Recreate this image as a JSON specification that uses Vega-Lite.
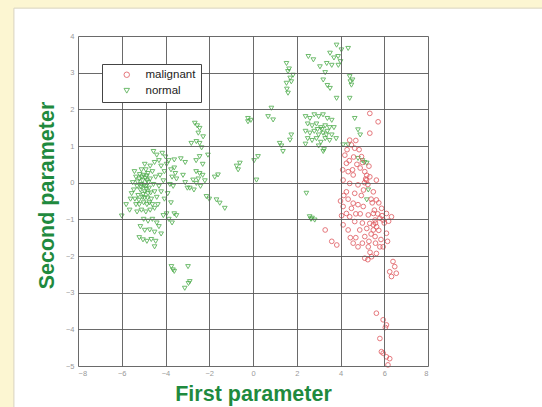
{
  "$schema": "https://vega.github.io/schema/vega-lite/v6.json",
  "autosize": "none",
  "width": 350,
  "height": 330,
  "padding": {"left": 78, "top": 36, "right": 114, "bottom": 41},
  "background": "#fcf6d2",
  "config": {
    "view": {"stroke": null},
    "axis": {
      "labelFont": "Liberation Sans",
      "labelFontSize": 7.5,
      "labelColor": "#9a9a9a",
      "labelOverlap": false,
      "ticks": false,
      "domain": false,
      "grid": true,
      "gridColor": "#5a5a5a",
      "gridOpacity": 0.9,
      "gridWidth": 1,
      "titleFont": "Liberation Sans",
      "titleFontSize": 21.5,
      "titleFontWeight": "bold",
      "titleColor": "#1f8a3e"
    },
    "legend": {
      "orient": "none",
      "legendX": 24,
      "legendY": 28,
      "padding": 5,
      "rowPadding": 3,
      "strokeColor": "#444444",
      "fillColor": "#ffffff",
      "labelFont": "Liberation Sans",
      "labelFontSize": 11.5,
      "labelColor": "#222222",
      "symbolOffset": 14,
      "labelOffset": 13,
      "symbolSize": 30,
      "symbolStrokeWidth": 1,
      "title": null
    }
  },
  "layer": [
    {
      "data": {"values": [{"panel": "sheet"}]},
      "mark": {"type": "rect", "fill": "#ffffff", "stroke": "#d8d4c0", "strokeWidth": 1},
      "encoding": {
        "x": {"datum": -10.93, "type": "quantitative", "scale": {"domain": [-8, 8], "nice": false, "zero": false}},
        "x2": {"datum": 14},
        "y": {"datum": -8, "type": "quantitative", "scale": {"domain": [-5, 4], "nice": false, "zero": false}},
        "y2": {"datum": 4.76}
      }
    },
    {
      "data": {
        "values": [
          {"p1": -5.2, "p2": 0.1, "tissue": "normal"},
          {"p1": -5.1, "p2": -0.05, "tissue": "normal"},
          {"p1": -5.0, "p2": 0.2, "tissue": "normal"},
          {"p1": -4.9, "p2": -0.1, "tissue": "normal"},
          {"p1": -4.85, "p2": 0.05, "tissue": "normal"},
          {"p1": -4.8, "p2": -0.3, "tissue": "normal"},
          {"p1": -4.95, "p2": -0.25, "tissue": "normal"},
          {"p1": -5.05, "p2": -0.4, "tissue": "normal"},
          {"p1": -4.7, "p2": 0.1, "tissue": "normal"},
          {"p1": -4.75, "p2": -0.15, "tissue": "normal"},
          {"p1": -4.65, "p2": -0.45, "tissue": "normal"},
          {"p1": -5.15, "p2": -0.2, "tissue": "normal"},
          {"p1": -5.3, "p2": -0.1, "tissue": "normal"},
          {"p1": -5.25, "p2": -0.35, "tissue": "normal"},
          {"p1": -5.35, "p2": 0.15, "tissue": "normal"},
          {"p1": -4.9, "p2": 0.35, "tissue": "normal"},
          {"p1": -4.8, "p2": 0.25, "tissue": "normal"},
          {"p1": -4.6, "p2": 0.3, "tissue": "normal"},
          {"p1": -4.55, "p2": -0.05, "tissue": "normal"},
          {"p1": -4.5, "p2": -0.25, "tissue": "normal"},
          {"p1": -5.0, "p2": -0.55, "tissue": "normal"},
          {"p1": -4.85, "p2": -0.6, "tissue": "normal"},
          {"p1": -5.2, "p2": -0.6, "tissue": "normal"},
          {"p1": -5.4, "p2": -0.45, "tissue": "normal"},
          {"p1": -5.45, "p2": -0.2, "tissue": "normal"},
          {"p1": -5.1, "p2": 0.35, "tissue": "normal"},
          {"p1": -4.95, "p2": 0.5, "tissue": "normal"},
          {"p1": -4.7, "p2": 0.45, "tissue": "normal"},
          {"p1": -4.6, "p2": -0.6, "tissue": "normal"},
          {"p1": -4.45, "p2": 0.15, "tissue": "normal"},
          {"p1": -4.4, "p2": -0.4, "tissue": "normal"},
          {"p1": -5.05, "p2": 0.05, "tissue": "normal"},
          {"p1": -4.98, "p2": -0.08, "tissue": "normal"},
          {"p1": -4.88, "p2": -0.18, "tissue": "normal"},
          {"p1": -4.78, "p2": 0.0, "tissue": "normal"},
          {"p1": -5.12, "p2": -0.12, "tissue": "normal"},
          {"p1": -4.92, "p2": 0.12, "tissue": "normal"},
          {"p1": -4.82, "p2": -0.42, "tissue": "normal"},
          {"p1": -5.02, "p2": -0.32, "tissue": "normal"},
          {"p1": -5.18, "p2": 0.22, "tissue": "normal"},
          {"p1": -4.68, "p2": -0.28, "tissue": "normal"},
          {"p1": -5.28, "p2": 0.02, "tissue": "normal"},
          {"p1": -5.5, "p2": 0.0, "tissue": "normal"},
          {"p1": -5.55, "p2": -0.3, "tissue": "normal"},
          {"p1": -5.35, "p2": -0.6, "tissue": "normal"},
          {"p1": -5.1, "p2": -0.75, "tissue": "normal"},
          {"p1": -4.9, "p2": -0.8, "tissue": "normal"},
          {"p1": -4.7, "p2": -0.75, "tissue": "normal"},
          {"p1": -4.5, "p2": -0.7, "tissue": "normal"},
          {"p1": -5.3, "p2": -0.8, "tissue": "normal"},
          {"p1": -5.08, "p2": 0.15, "tissue": "normal"},
          {"p1": -4.96, "p2": -0.42, "tissue": "normal"},
          {"p1": -5.22, "p2": -0.48, "tissue": "normal"},
          {"p1": -4.74, "p2": -0.55, "tissue": "normal"},
          {"p1": -5.42, "p2": 0.3, "tissue": "normal"},
          {"p1": -4.86, "p2": 0.18, "tissue": "normal"},
          {"p1": -4.55, "p2": 0.85, "tissue": "normal"},
          {"p1": -4.4, "p2": 0.75, "tissue": "normal"},
          {"p1": -4.3, "p2": 0.6, "tissue": "normal"},
          {"p1": -4.5, "p2": 0.55, "tissue": "normal"},
          {"p1": -4.2, "p2": 0.45, "tissue": "normal"},
          {"p1": -4.15, "p2": 0.8, "tissue": "normal"},
          {"p1": -4.0, "p2": 0.7, "tissue": "normal"},
          {"p1": -4.05, "p2": 0.3, "tissue": "normal"},
          {"p1": -4.25, "p2": 0.2, "tissue": "normal"},
          {"p1": -4.1, "p2": 0.05, "tissue": "normal"},
          {"p1": -4.3, "p2": -0.1, "tissue": "normal"},
          {"p1": -4.2, "p2": -0.25, "tissue": "normal"},
          {"p1": -4.05, "p2": -0.45, "tissue": "normal"},
          {"p1": -4.35, "p2": -0.6, "tissue": "normal"},
          {"p1": -3.95, "p2": 0.5, "tissue": "normal"},
          {"p1": -3.85, "p2": 0.6, "tissue": "normal"},
          {"p1": -3.75, "p2": 0.35, "tissue": "normal"},
          {"p1": -3.6, "p2": 0.62, "tissue": "normal"},
          {"p1": -3.6, "p2": 0.4, "tissue": "normal"},
          {"p1": -3.7, "p2": 0.15, "tissue": "normal"},
          {"p1": -3.55, "p2": 0.25, "tissue": "normal"},
          {"p1": -3.8, "p2": -0.05, "tissue": "normal"},
          {"p1": -3.65, "p2": -0.1, "tissue": "normal"},
          {"p1": -3.5, "p2": 0.1, "tissue": "normal"},
          {"p1": -3.9, "p2": -0.3, "tissue": "normal"},
          {"p1": -3.75, "p2": -0.55, "tissue": "normal"},
          {"p1": -3.6, "p2": -0.85, "tissue": "normal"},
          {"p1": -3.5, "p2": -0.9, "tissue": "normal"},
          {"p1": -3.95, "p2": -0.85, "tissue": "normal"},
          {"p1": -4.1, "p2": -0.9, "tissue": "normal"},
          {"p1": -3.85, "p2": -1.0, "tissue": "normal"},
          {"p1": -3.7, "p2": -1.1, "tissue": "normal"},
          {"p1": -5.0, "p2": -1.0, "tissue": "normal"},
          {"p1": -4.8, "p2": -1.05, "tissue": "normal"},
          {"p1": -4.6, "p2": -1.0, "tissue": "normal"},
          {"p1": -4.4, "p2": -1.1, "tissue": "normal"},
          {"p1": -5.15, "p2": -1.2, "tissue": "normal"},
          {"p1": -4.95, "p2": -1.3, "tissue": "normal"},
          {"p1": -4.72, "p2": -1.29, "tissue": "normal"},
          {"p1": -4.5, "p2": -1.35, "tissue": "normal"},
          {"p1": -4.3, "p2": -1.2, "tissue": "normal"},
          {"p1": -5.03, "p2": -1.56, "tissue": "normal"},
          {"p1": -4.85, "p2": -1.6, "tissue": "normal"},
          {"p1": -5.2, "p2": -1.5, "tissue": "normal"},
          {"p1": -4.65, "p2": -1.55, "tissue": "normal"},
          {"p1": -4.5, "p2": -1.75, "tissue": "normal"},
          {"p1": -4.45, "p2": -1.6, "tissue": "normal"},
          {"p1": -4.2, "p2": -1.4, "tissue": "normal"},
          {"p1": -6.0, "p2": -0.91, "tissue": "normal"},
          {"p1": -5.64, "p2": -0.75, "tissue": "normal"},
          {"p1": -5.8, "p2": -0.6, "tissue": "normal"},
          {"p1": -5.6, "p2": -0.45, "tissue": "normal"},
          {"p1": -3.73, "p2": -2.29, "tissue": "normal"},
          {"p1": -3.66, "p2": -2.38, "tissue": "normal"},
          {"p1": -3.6, "p2": -2.42, "tissue": "normal"},
          {"p1": -2.97, "p2": -2.29, "tissue": "normal"},
          {"p1": -2.89, "p2": -2.7, "tissue": "normal"},
          {"p1": -3.12, "p2": -2.88, "tissue": "normal"},
          {"p1": -2.95, "p2": -2.75, "tissue": "normal"},
          {"p1": -2.66, "p2": 1.62, "tissue": "normal"},
          {"p1": -2.55, "p2": 1.55, "tissue": "normal"},
          {"p1": -2.44, "p2": 1.48, "tissue": "normal"},
          {"p1": -2.5, "p2": 1.35, "tissue": "normal"},
          {"p1": -2.59, "p2": 1.12, "tissue": "normal"},
          {"p1": -2.44, "p2": 1.07, "tissue": "normal"},
          {"p1": -2.82, "p2": 1.07, "tissue": "normal"},
          {"p1": -2.28, "p2": 1.25, "tissue": "normal"},
          {"p1": -2.35, "p2": 0.95, "tissue": "normal"},
          {"p1": -2.06, "p2": 0.75, "tissue": "normal"},
          {"p1": -2.44, "p2": 0.71, "tissue": "normal"},
          {"p1": -2.6, "p2": 0.6, "tissue": "normal"},
          {"p1": -2.3, "p2": 0.5, "tissue": "normal"},
          {"p1": -2.44, "p2": 0.25, "tissue": "normal"},
          {"p1": -2.3, "p2": 0.2, "tissue": "normal"},
          {"p1": -2.6, "p2": 0.3, "tissue": "normal"},
          {"p1": -2.74, "p2": 0.07, "tissue": "normal"},
          {"p1": -2.5, "p2": 0.1, "tissue": "normal"},
          {"p1": -2.2, "p2": 0.05, "tissue": "normal"},
          {"p1": -2.89, "p2": -0.15, "tissue": "normal"},
          {"p1": -2.59, "p2": -0.02, "tissue": "normal"},
          {"p1": -2.7, "p2": -0.2, "tissue": "normal"},
          {"p1": -2.4, "p2": -0.1, "tissue": "normal"},
          {"p1": -2.13, "p2": -0.38, "tissue": "normal"},
          {"p1": -3.1, "p2": 0.0, "tissue": "normal"},
          {"p1": -3.2, "p2": 0.2, "tissue": "normal"},
          {"p1": -3.0, "p2": -0.15, "tissue": "normal"},
          {"p1": -3.3, "p2": 0.65, "tissue": "normal"},
          {"p1": -3.1, "p2": 0.55, "tissue": "normal"},
          {"p1": -1.6, "p2": 0.21, "tissue": "normal"},
          {"p1": -1.75, "p2": 0.15, "tissue": "normal"},
          {"p1": -1.67, "p2": -0.47, "tissue": "normal"},
          {"p1": -1.52, "p2": -0.56, "tissue": "normal"},
          {"p1": -1.29, "p2": -0.7, "tissue": "normal"},
          {"p1": -2.0, "p2": -0.45, "tissue": "normal"},
          {"p1": -0.68, "p2": 0.35, "tissue": "normal"},
          {"p1": -0.6, "p2": 0.53, "tissue": "normal"},
          {"p1": -0.75, "p2": 0.45, "tissue": "normal"},
          {"p1": -0.23, "p2": 1.75, "tissue": "normal"},
          {"p1": -0.23, "p2": 1.66, "tissue": "normal"},
          {"p1": -0.1, "p2": 1.7, "tissue": "normal"},
          {"p1": 0.23, "p2": 0.71, "tissue": "normal"},
          {"p1": 0.16, "p2": 0.07, "tissue": "normal"},
          {"p1": 0.05, "p2": 0.6, "tissue": "normal"},
          {"p1": 0.69, "p2": 1.8, "tissue": "normal"},
          {"p1": 0.84, "p2": 2.03, "tissue": "normal"},
          {"p1": 0.92, "p2": 1.71, "tissue": "normal"},
          {"p1": 1.22, "p2": 1.07, "tissue": "normal"},
          {"p1": 1.37, "p2": 0.85, "tissue": "normal"},
          {"p1": 1.3, "p2": 1.0, "tissue": "normal"},
          {"p1": 1.53, "p2": 3.25, "tissue": "normal"},
          {"p1": 1.6, "p2": 3.03, "tissue": "normal"},
          {"p1": 1.53, "p2": 2.71, "tissue": "normal"},
          {"p1": 1.6, "p2": 2.44, "tissue": "normal"},
          {"p1": 1.83, "p2": 2.93, "tissue": "normal"},
          {"p1": 1.7, "p2": 2.85, "tissue": "normal"},
          {"p1": 1.65, "p2": 3.1, "tissue": "normal"},
          {"p1": 1.55, "p2": 2.55, "tissue": "normal"},
          {"p1": 1.75, "p2": 2.75, "tissue": "normal"},
          {"p1": 2.44, "p2": -0.29, "tissue": "normal"},
          {"p1": 2.59, "p2": -0.93, "tissue": "normal"},
          {"p1": 2.7, "p2": -0.97, "tissue": "normal"},
          {"p1": 2.82, "p2": -1.02, "tissue": "normal"},
          {"p1": 2.65, "p2": -1.0, "tissue": "normal"},
          {"p1": 2.53, "p2": 3.44, "tissue": "normal"},
          {"p1": 2.76, "p2": 3.35, "tissue": "normal"},
          {"p1": 3.06, "p2": 3.16, "tissue": "normal"},
          {"p1": 3.37, "p2": 3.25, "tissue": "normal"},
          {"p1": 3.52, "p2": 3.53, "tissue": "normal"},
          {"p1": 3.82, "p2": 3.75, "tissue": "normal"},
          {"p1": 3.89, "p2": 3.44, "tissue": "normal"},
          {"p1": 4.04, "p2": 3.62, "tissue": "normal"},
          {"p1": 4.35, "p2": 3.66, "tissue": "normal"},
          {"p1": 3.7, "p2": 3.4, "tissue": "normal"},
          {"p1": 3.6, "p2": 3.2, "tissue": "normal"},
          {"p1": 3.3, "p2": 3.0, "tissue": "normal"},
          {"p1": 3.9, "p2": 3.2, "tissue": "normal"},
          {"p1": 4.0, "p2": 3.3, "tissue": "normal"},
          {"p1": 3.21, "p2": 2.8, "tissue": "normal"},
          {"p1": 3.52, "p2": 2.57, "tissue": "normal"},
          {"p1": 3.82, "p2": 2.3, "tissue": "normal"},
          {"p1": 3.4, "p2": 2.65, "tissue": "normal"},
          {"p1": 4.42, "p2": 2.89, "tissue": "normal"},
          {"p1": 4.5, "p2": 2.66, "tissue": "normal"},
          {"p1": 4.42, "p2": 2.3, "tissue": "normal"},
          {"p1": 4.45, "p2": 2.75, "tissue": "normal"},
          {"p1": 4.55, "p2": 2.8, "tissue": "normal"},
          {"p1": 2.4, "p2": 1.8, "tissue": "normal"},
          {"p1": 2.6, "p2": 1.75, "tissue": "normal"},
          {"p1": 2.8, "p2": 1.85, "tissue": "normal"},
          {"p1": 3.0, "p2": 1.8, "tissue": "normal"},
          {"p1": 3.2, "p2": 1.85, "tissue": "normal"},
          {"p1": 3.4, "p2": 1.75, "tissue": "normal"},
          {"p1": 3.6, "p2": 1.7, "tissue": "normal"},
          {"p1": 2.5, "p2": 1.6, "tissue": "normal"},
          {"p1": 2.7, "p2": 1.55, "tissue": "normal"},
          {"p1": 2.9, "p2": 1.6, "tissue": "normal"},
          {"p1": 3.1, "p2": 1.5, "tissue": "normal"},
          {"p1": 3.3, "p2": 1.55, "tissue": "normal"},
          {"p1": 3.5, "p2": 1.5, "tissue": "normal"},
          {"p1": 3.7, "p2": 1.5, "tissue": "normal"},
          {"p1": 2.4, "p2": 1.4, "tissue": "normal"},
          {"p1": 2.6, "p2": 1.35, "tissue": "normal"},
          {"p1": 2.8, "p2": 1.4, "tissue": "normal"},
          {"p1": 3.0, "p2": 1.3, "tissue": "normal"},
          {"p1": 3.2, "p2": 1.35, "tissue": "normal"},
          {"p1": 3.4, "p2": 1.4, "tissue": "normal"},
          {"p1": 3.6, "p2": 1.3, "tissue": "normal"},
          {"p1": 2.5, "p2": 1.2, "tissue": "normal"},
          {"p1": 2.7, "p2": 1.15, "tissue": "normal"},
          {"p1": 2.9, "p2": 1.2, "tissue": "normal"},
          {"p1": 3.1, "p2": 1.1, "tissue": "normal"},
          {"p1": 3.3, "p2": 1.2, "tissue": "normal"},
          {"p1": 3.5, "p2": 1.15, "tissue": "normal"},
          {"p1": 3.8, "p2": 1.2, "tissue": "normal"},
          {"p1": 2.4, "p2": 1.05, "tissue": "normal"},
          {"p1": 3.0, "p2": 1.0, "tissue": "normal"},
          {"p1": 3.25, "p2": 0.9, "tissue": "normal"},
          {"p1": 3.15, "p2": 1.45, "tissue": "normal"},
          {"p1": 2.95, "p2": 1.45, "tissue": "normal"},
          {"p1": 3.35, "p2": 1.3, "tissue": "normal"},
          {"p1": 3.21, "p2": 0.85, "tissue": "normal"},
          {"p1": 1.69, "p2": 1.16, "tissue": "normal"},
          {"p1": 1.75, "p2": 1.3, "tissue": "normal"},
          {"p1": 4.65, "p2": 1.75, "tissue": "normal"},
          {"p1": 4.8, "p2": 1.44, "tissue": "normal"},
          {"p1": 4.9, "p2": 1.3, "tissue": "normal"},
          {"p1": 4.12, "p2": 1.03, "tissue": "normal"},
          {"p1": 4.35, "p2": 1.03, "tissue": "normal"},
          {"p1": 4.8, "p2": 0.66, "tissue": "normal"},
          {"p1": 5.0, "p2": 0.6, "tissue": "normal"},
          {"p1": 5.1, "p2": 0.55, "tissue": "normal"},
          {"p1": 5.2, "p2": 0.53, "tissue": "normal"},
          {"p1": 5.2, "p2": -0.47, "tissue": "normal"},
          {"p1": 5.27, "p2": -0.2, "tissue": "normal"},
          {"p1": 5.34, "p2": 1.89, "tissue": "malignant"},
          {"p1": 5.72, "p2": 1.66, "tissue": "malignant"},
          {"p1": 5.34, "p2": 1.35, "tissue": "malignant"},
          {"p1": 4.42, "p2": 1.16, "tissue": "malignant"},
          {"p1": 4.5, "p2": 1.03, "tissue": "malignant"},
          {"p1": 4.65, "p2": 0.94, "tissue": "malignant"},
          {"p1": 4.2, "p2": 0.75, "tissue": "malignant"},
          {"p1": 4.96, "p2": 0.71, "tissue": "malignant"},
          {"p1": 4.27, "p2": 0.53, "tissue": "malignant"},
          {"p1": 4.12, "p2": 0.07, "tissue": "malignant"},
          {"p1": 4.58, "p2": 0.21, "tissue": "malignant"},
          {"p1": 5.11, "p2": 0.3, "tissue": "malignant"},
          {"p1": 5.19, "p2": 0.07, "tissue": "malignant"},
          {"p1": 5.34, "p2": 0.16, "tissue": "malignant"},
          {"p1": 5.64, "p2": 0.07, "tissue": "malignant"},
          {"p1": 4.42, "p2": -0.02, "tissue": "malignant"},
          {"p1": 4.27, "p2": -0.25, "tissue": "malignant"},
          {"p1": 4.8, "p2": -0.06, "tissue": "malignant"},
          {"p1": 4.65, "p2": -0.29, "tissue": "malignant"},
          {"p1": 5.5, "p2": -0.25, "tissue": "malignant"},
          {"p1": 5.64, "p2": -0.47, "tissue": "malignant"},
          {"p1": 4.58, "p2": -0.56, "tissue": "malignant"},
          {"p1": 4.8, "p2": -0.6, "tissue": "malignant"},
          {"p1": 4.12, "p2": -0.65, "tissue": "malignant"},
          {"p1": 4.27, "p2": -0.84, "tissue": "malignant"},
          {"p1": 5.04, "p2": -0.65, "tissue": "malignant"},
          {"p1": 5.27, "p2": -0.88, "tissue": "malignant"},
          {"p1": 5.5, "p2": -0.84, "tissue": "malignant"},
          {"p1": 5.88, "p2": -0.7, "tissue": "malignant"},
          {"p1": 6.1, "p2": -0.84, "tissue": "malignant"},
          {"p1": 6.33, "p2": -0.93, "tissue": "malignant"},
          {"p1": 5.58, "p2": -1.02, "tissue": "malignant"},
          {"p1": 5.8, "p2": -0.97, "tissue": "malignant"},
          {"p1": 5.95, "p2": -1.02, "tissue": "malignant"},
          {"p1": 5.34, "p2": -1.11, "tissue": "malignant"},
          {"p1": 4.42, "p2": -0.93, "tissue": "malignant"},
          {"p1": 4.12, "p2": -1.15, "tissue": "malignant"},
          {"p1": 4.65, "p2": -1.06, "tissue": "malignant"},
          {"p1": 4.35, "p2": -1.29, "tissue": "malignant"},
          {"p1": 4.88, "p2": -1.29, "tissue": "malignant"},
          {"p1": 5.5, "p2": -1.29, "tissue": "malignant"},
          {"p1": 6.1, "p2": -1.38, "tissue": "malignant"},
          {"p1": 5.11, "p2": -1.47, "tissue": "malignant"},
          {"p1": 5.58, "p2": -1.47, "tissue": "malignant"},
          {"p1": 4.58, "p2": -1.65, "tissue": "malignant"},
          {"p1": 4.8, "p2": -1.75, "tissue": "malignant"},
          {"p1": 5.27, "p2": -1.75, "tissue": "malignant"},
          {"p1": 5.8, "p2": -1.75, "tissue": "malignant"},
          {"p1": 5.95, "p2": -1.75, "tissue": "malignant"},
          {"p1": 5.64, "p2": -1.93, "tissue": "malignant"},
          {"p1": 5.11, "p2": -2.06, "tissue": "malignant"},
          {"p1": 5.42, "p2": -2.02, "tissue": "malignant"},
          {"p1": 3.3, "p2": -1.29, "tissue": "malignant"},
          {"p1": 3.6, "p2": -1.6, "tissue": "malignant"},
          {"p1": 3.83, "p2": -1.7, "tissue": "malignant"},
          {"p1": 6.4, "p2": -2.15, "tissue": "malignant"},
          {"p1": 6.48, "p2": -2.29, "tissue": "malignant"},
          {"p1": 6.25, "p2": -2.43, "tissue": "malignant"},
          {"p1": 6.55, "p2": -2.47, "tissue": "malignant"},
          {"p1": 6.33, "p2": -2.56, "tissue": "malignant"},
          {"p1": 5.64, "p2": -3.56, "tissue": "malignant"},
          {"p1": 5.95, "p2": -3.74, "tissue": "malignant"},
          {"p1": 6.1, "p2": -3.88, "tissue": "malignant"},
          {"p1": 6.05, "p2": -3.95, "tissue": "malignant"},
          {"p1": 5.8, "p2": -4.25, "tissue": "malignant"},
          {"p1": 5.87, "p2": -4.61, "tissue": "malignant"},
          {"p1": 5.95, "p2": -4.65, "tissue": "malignant"},
          {"p1": 6.1, "p2": -4.75, "tissue": "malignant"},
          {"p1": 6.25, "p2": -4.8, "tissue": "malignant"},
          {"p1": 6.17, "p2": -4.97, "tissue": "malignant"},
          {"p1": 5.15, "p2": 0.1, "tissue": "malignant"},
          {"p1": 5.2, "p2": 0.2, "tissue": "malignant"},
          {"p1": 5.1, "p2": 0.0, "tissue": "malignant"},
          {"p1": 5.25, "p2": -0.05, "tissue": "malignant"},
          {"p1": 4.9, "p2": 0.4, "tissue": "malignant"},
          {"p1": 4.75, "p2": 0.5, "tissue": "malignant"},
          {"p1": 4.55, "p2": 0.35, "tissue": "malignant"},
          {"p1": 4.35, "p2": 0.3, "tissue": "malignant"},
          {"p1": 4.3, "p2": 0.9, "tissue": "malignant"},
          {"p1": 4.85, "p2": 0.9, "tissue": "malignant"},
          {"p1": 5.0, "p2": 0.55, "tissue": "malignant"},
          {"p1": 5.3, "p2": 0.45, "tissue": "malignant"},
          {"p1": 5.45, "p2": -0.55, "tissue": "malignant"},
          {"p1": 5.55, "p2": -0.75, "tissue": "malignant"},
          {"p1": 5.7, "p2": -0.85, "tissue": "malignant"},
          {"p1": 5.6, "p2": -1.1, "tissue": "malignant"},
          {"p1": 5.5, "p2": -1.15, "tissue": "malignant"},
          {"p1": 5.65, "p2": -1.2, "tissue": "malignant"},
          {"p1": 5.9, "p2": -0.9, "tissue": "malignant"},
          {"p1": 6.0, "p2": -1.1, "tissue": "malignant"},
          {"p1": 5.75, "p2": -1.3, "tissue": "malignant"},
          {"p1": 5.4, "p2": -1.4, "tissue": "malignant"},
          {"p1": 5.2, "p2": -1.25, "tissue": "malignant"},
          {"p1": 5.0, "p2": -1.1, "tissue": "malignant"},
          {"p1": 4.9, "p2": -0.85, "tissue": "malignant"},
          {"p1": 4.7, "p2": -0.85, "tissue": "malignant"},
          {"p1": 4.5, "p2": -0.7, "tissue": "malignant"},
          {"p1": 4.35, "p2": -0.45, "tissue": "malignant"},
          {"p1": 4.0, "p2": -0.5, "tissue": "malignant"},
          {"p1": 4.15, "p2": -0.35, "tissue": "malignant"},
          {"p1": 4.95, "p2": -0.35, "tissue": "malignant"},
          {"p1": 5.05, "p2": -0.2, "tissue": "malignant"},
          {"p1": 5.4, "p2": -0.45, "tissue": "malignant"},
          {"p1": 5.75, "p2": -0.55, "tissue": "malignant"},
          {"p1": 6.2, "p2": -1.05, "tissue": "malignant"},
          {"p1": 6.15, "p2": -1.6, "tissue": "malignant"},
          {"p1": 5.85, "p2": -1.55, "tissue": "malignant"},
          {"p1": 5.6, "p2": -1.65, "tissue": "malignant"},
          {"p1": 5.3, "p2": -1.6, "tissue": "malignant"},
          {"p1": 5.0, "p2": -1.65, "tissue": "malignant"},
          {"p1": 4.7, "p2": -1.5, "tissue": "malignant"},
          {"p1": 4.45, "p2": -1.5, "tissue": "malignant"},
          {"p1": 5.35, "p2": -1.9, "tissue": "malignant"},
          {"p1": 5.25, "p2": -2.1, "tissue": "malignant"},
          {"p1": 4.1, "p2": 0.35, "tissue": "malignant"},
          {"p1": 4.4, "p2": 0.6, "tissue": "malignant"},
          {"p1": 4.6, "p2": 0.7, "tissue": "malignant"},
          {"p1": 4.7, "p2": 1.15, "tissue": "malignant"},
          {"p1": 4.05, "p2": -0.9, "tissue": "malignant"}
        ]
      },
      "mark": {"type": "point", "filled": false, "size": 22, "strokeWidth": 1, "opacity": 0.8},
      "encoding": {
        "x": {
          "field": "p1",
          "type": "quantitative",
          "scale": {"domain": [-8, 8], "nice": false, "zero": false},
          "axis": {
            "values": [-8, -6, -4, -2, 0, 2, 4, 6, 8],
            "tickCount": 12,
            "zindex": 1,
            "labelOverlap": false,
            "labelPadding": 3,
            "title": "First parameter",
            "titleX": 175,
            "titleY": 34,
            "titleAlign": "center",
            "titleBaseline": "alphabetic"
          }
        },
        "y": {
          "field": "p2",
          "type": "quantitative",
          "scale": {"domain": [-5, 4], "nice": false, "zero": false},
          "axis": {
            "values": [-5, -4, -3, -2, -1, 0, 1, 2, 3, 4],
            "tickCount": 12,
            "zindex": 1,
            "labelOverlap": false,
            "labelPadding": 4,
            "title": "Second parameter",
            "titleAngle": -90,
            "titleX": -25,
            "titleY": 159,
            "titleAlign": "center",
            "titleBaseline": "alphabetic"
          }
        },
        "color": {
          "field": "tissue",
          "type": "nominal",
          "scale": {"domain": ["malignant", "normal"], "range": ["#e0565c", "#4aab48"]},
          "legend": {"zindex": 2}
        },
        "shape": {
          "field": "tissue",
          "type": "nominal",
          "scale": {"domain": ["malignant", "normal"], "range": ["circle", "triangle-down"]},
          "legend": {"zindex": 2}
        }
      }
    }
  ]
}
